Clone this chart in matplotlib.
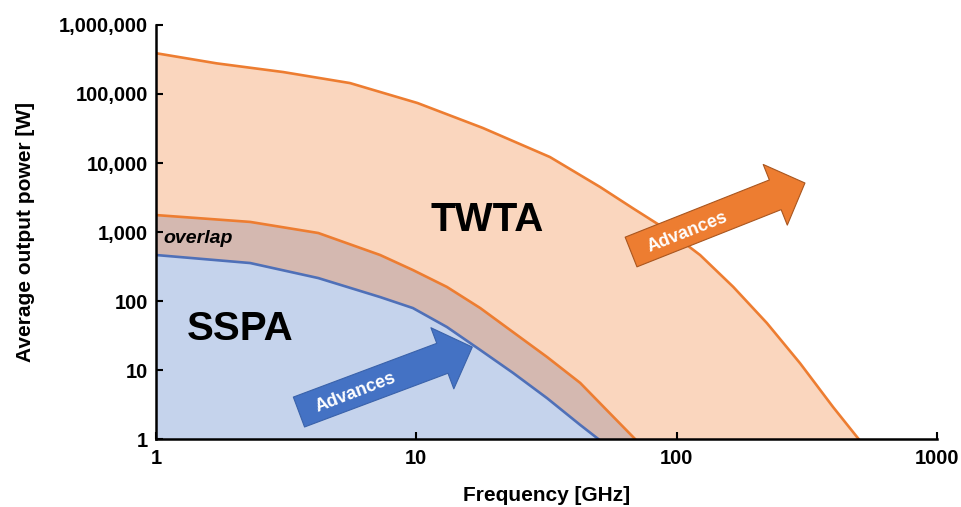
import matplotlib
matplotlib.use("Agg")
import matplotlib.pyplot as plt
from matplotlib.ticker import FixedLocator, FixedFormatter

plt.rcParams['font.family'] = ['Liberation Sans', 'DejaVu Sans']

# curves: frequency [GHz], power [W]
twta_hi_f = [1, 1.71, 3.08, 5.56, 10.1, 18, 32.6, 50.8, 68, 91.9, 123, 165, 222, 298, 399, 500]
twta_hi_p = [390000, 278000, 208000, 144000, 74000, 32200, 12200, 4490, 2200, 1070, 464, 160, 48, 12.5, 2.9, 1]

twta_lo_f = [1, 2.3, 4.2, 7.26, 9.7, 13.1, 17.6, 23.5, 31.8, 42.6, 54, 69.2]
twta_lo_p = [1760, 1400, 967, 464, 281, 160, 79, 35.5, 15.4, 6.5, 2.6, 1]

sspa_f = [1, 2.3, 4.2, 7.26, 9.7, 13.1, 17.6, 23.5, 31.8, 42.6, 50]
sspa_p = [464, 355, 215, 114, 79, 42, 19.5, 9.1, 3.9, 1.6, 1]

x_ticks = [1, 10, 100, 1000]
x_labels = ["1", "10", "100", "1000"]
y_ticks = [1, 10, 100, 1000, 10000, 100000, 1000000]
y_labels = ["1", "10", "100", "1,000", "10,000", "100,000", "1,000,000"]

ORANGE = "#ED7D31"
BLUE = "#4472C4"

fig = plt.figure(figsize=(9.62, 5.07), dpi=100)
ax = fig.add_axes([0.1622, 0.1341, 0.8118, 0.8166])
ax.set_xscale("log")
ax.set_yscale("log")
ax.set_xlim(1, 1000)
ax.set_ylim(1, 1000000)

# twta band: upper curve, back along the bottom, then the lower curve reversed
ax.fill(twta_hi_f + twta_lo_f[::-1], twta_hi_p + twta_lo_p[::-1],
        color="#FAD6BE", lw=0, zorder=1)
# overlap band between sspa and lower twta curve
ax.fill(twta_lo_f + sspa_f[::-1], twta_lo_p + sspa_p[::-1],
        color="#D4B8B0", lw=0, zorder=1)
# sspa region
ax.fill(sspa_f + [1], sspa_p + [1], color="#C5D3EC", lw=0, zorder=1)

ax.plot(twta_hi_f, twta_hi_p, color=ORANGE, lw=1.9, zorder=3)
ax.plot(twta_lo_f, twta_lo_p, color=ORANGE, lw=1.9, zorder=3)
ax.plot(sspa_f, sspa_p, color="#4F70B8", lw=1.9, zorder=3)

# axes in excel style
for s in ["top", "right"]:
    ax.spines[s].set_visible(False)
for s in ["left", "bottom"]:
    ax.spines[s].set_linewidth(1.8)
    ax.spines[s].set_zorder(5)
ax.xaxis.set_major_locator(FixedLocator(x_ticks))
ax.xaxis.set_major_formatter(FixedFormatter(x_labels))
ax.yaxis.set_major_locator(FixedLocator(y_ticks))
ax.yaxis.set_major_formatter(FixedFormatter(y_labels))
ax.minorticks_off()
ax.tick_params(direction="in", length=5, width=1.5, labelsize=14.5)
ax.tick_params(axis="x", pad=7)
ax.tick_params(axis="y", pad=6)
for lab in ax.get_xticklabels() + ax.get_yticklabels():
    lab.set_fontweight("bold")

ax.set_xlabel("Frequency [GHz]", fontsize=15, fontweight="bold", labelpad=13)
ax.set_ylabel("Average output power [W]", fontsize=15, fontweight="bold", labelpad=17)

ax.text(0.424, 0.53, "TWTA", transform=ax.transAxes, fontsize=29,
        fontweight="bold", ha="center", va="center", zorder=6)
ax.text(0.108, 0.265, "SSPA", transform=ax.transAxes, fontsize=29,
        fontweight="bold", ha="center", va="center", zorder=6)
ax.text(0.009, 0.485, "overlap", transform=ax.transAxes, fontsize=14,
        fontweight="bold", style="italic", ha="left", va="center", zorder=6)

# "Advances" arrows (tail, tip, text centre, angle)
arrows = [
    ((3.54, 2.46), (16.4, 21.5), (5.82, 4.64), 21, BLUE, "#3A62AA"),
    ((66.8, 513), (311, 5130), (109.6, 1000), 21.5, ORANGE, "#A9561F"),
]
for tail, tip, mid, ang, fc, ec in arrows:
    ax.annotate("", xy=tip, xytext=tail,
                arrowprops=dict(arrowstyle="simple,head_length=23,head_width=47,tail_width=23",
                                mutation_scale=1, fc=fc, ec=ec, lw=0.8,
                                shrinkA=0, shrinkB=0), zorder=7)
    ax.text(mid[0], mid[1], "Advances", color="white", fontsize=13,
            fontweight="bold", rotation=ang, rotation_mode="anchor",
            ha="center", va="center", zorder=8)

fig.savefig("out.png", dpi=100)
